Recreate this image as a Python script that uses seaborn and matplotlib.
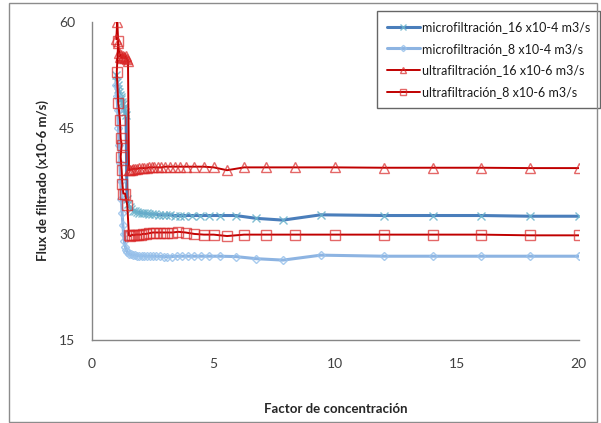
import matplotlib
matplotlib.use("Agg")
import pandas as pd
import seaborn as sns
from matplotlib import pyplot as plt
from matplotlib.patches import Rectangle

# factor de concentracion / flux (x10-6 m/s)
micro16_fc = [1.00, 1.03, 1.06, 1.09, 1.12, 1.15, 1.18, 1.21, 1.24, 1.27, 1.30, 1.33, 1.36, 1.40,
              1.44, 1.48, 1.55, 1.62, 1.70, 1.78, 1.86, 1.95, 2.05, 2.15, 2.25, 2.36, 2.48, 2.60,
              2.75, 2.90, 3.05, 3.20, 3.40, 3.60, 3.80, 4.10, 4.45, 4.80, 5.25, 5.90, 6.75, 7.85,
              9.40, 12.0, 14.0, 16.0, 18.0, 20.0]
micro16_flux = [52.5, 51.5, 51.0, 50.5, 50.0, 49.6, 49.3, 49.0, 48.6, 48.3, 48.0, 47.6, 47.2, 46.8,
                35.0, 34.2, 33.8, 33.5, 33.3, 33.2, 33.1, 33.0, 33.0, 32.9, 32.9, 32.8, 32.8, 32.8,
                32.7, 32.7, 32.7, 32.7, 32.6, 32.6, 32.6, 32.6, 32.6, 32.6, 32.6, 32.6, 32.2, 31.95,
                32.7, 32.6, 32.6, 32.6, 32.5, 32.5]

micro8_fc = [1.00, 1.03, 1.06, 1.09, 1.12, 1.15, 1.18, 1.21, 1.24, 1.27, 1.30, 1.33, 1.37, 1.41,
             1.46, 1.52, 1.60, 1.68, 1.76, 1.85, 1.95, 2.05, 2.15, 2.26, 2.38, 2.50, 2.65, 2.80,
             2.95, 3.10, 3.30, 3.50, 3.70, 3.95, 4.20, 4.50, 4.80, 5.25, 5.90, 6.75, 7.85, 9.40,
             12.0, 14.0, 16.0, 18.0, 20.0]
micro8_flux = [51.0, 49.5, 47.5, 45.0, 42.5, 40.0, 37.5, 35.0, 33.0, 31.3, 30.0, 29.0, 28.2, 27.7,
               27.4, 27.2, 27.1, 27.0, 27.0, 26.95, 26.9, 26.9, 26.9, 26.85, 26.85, 26.85, 26.85, 26.85,
               26.8, 26.8, 26.8, 26.85, 26.85, 26.85, 26.85, 26.85, 26.85, 26.85, 26.8, 26.5, 26.3, 27.0,
               26.85, 26.85, 26.85, 26.85, 26.85]

ultra16_fc = [1.00, 1.04, 1.08, 1.12, 1.16, 1.20, 1.24, 1.28, 1.32, 1.36, 1.40, 1.44, 1.48, 1.52,
              1.58, 1.64, 1.70, 1.78, 1.86, 1.95, 2.05, 2.15, 2.25, 2.35, 2.45, 2.55, 2.70, 2.85,
              3.00, 3.20, 3.40, 3.60, 3.85, 4.20, 4.60, 5.00, 5.55, 6.25, 7.15, 8.35, 10.0, 12.0,
              14.0, 16.0, 18.0, 20.0]
ultra16_flux = [57.5, 60.0, 57.0, 55.5, 55.0, 55.3, 54.8, 55.2, 55.0, 54.8, 55.1, 54.7, 54.5, 39.0,
                39.1, 39.1, 39.2, 39.2, 39.2, 39.3, 39.3, 39.3, 39.3, 39.4, 39.4, 39.4, 39.4, 39.4,
                39.5, 39.5, 39.5, 39.5, 39.5, 39.5, 39.5, 39.4, 39.0, 39.4, 39.4, 39.4, 39.4, 39.35,
                39.35, 39.35, 39.3, 39.3]

ultra8_fc = [1.08, 1.02, 1.08, 1.15, 1.18, 1.22, 1.18, 1.22, 1.25, 1.29, 1.36, 1.45, 1.52, 1.58,
             1.64, 1.72, 1.80, 1.90, 2.00, 2.10, 2.22, 2.35, 2.50, 2.65, 2.80, 2.95, 3.10, 3.30,
             3.55, 3.85, 4.20, 4.60, 5.00, 5.55, 6.25, 7.15, 8.35, 10.0, 12.0, 14.0, 16.0, 18.0, 20.0]
ultra8_flux = [57.2, 52.9, 48.5, 46.1, 43.5, 42.6, 40.9, 39.0, 37.1, 35.7, 35.7, 34.1, 29.8, 29.7,
               29.9, 29.8, 29.9, 29.9, 29.9, 30.0, 30.0, 30.1, 30.2, 30.2, 30.2, 30.2, 30.2, 30.2,
               30.3, 30.2, 30.0, 29.9, 29.9, 29.7, 29.9, 29.9, 29.9, 29.9, 29.9, 29.9, 29.9, 29.8, 29.8]

labels = ['microfiltración_16 x10-4 m3/s', 'microfiltración_8 x10-4 m3/s',
          'ultrafiltración_16 x10-6 m3/s', 'ultrafiltración_8 x10-6 m3/s']

sns.set_style('white')
plt.rcParams['font.family'] = ['Lato', 'DejaVu Sans']

series = [
    (micro16_fc, micro16_flux, labels[0], '#4A7EBB', 2.2, 'x', 5.5, (0.42, 0.70, 0.80, 0.85)),
    (micro8_fc, micro8_flux, labels[1], '#8DB4E2', 2.2, 'D', 4.5, (0.60, 0.76, 0.92, 0.85)),
    (ultra16_fc, ultra16_flux, labels[2], '#C00000', 1.4, '^', 6.5, (0.85, 0.15, 0.15, 0.7)),
    (ultra8_fc, ultra8_flux, labels[3], '#C00000', 1.4, 's', 6.5, (0.85, 0.15, 0.15, 0.7)),
]

fig = plt.figure(figsize=(6.01, 4.23), dpi=100)
ax = fig.add_axes([0.153, 0.196, 0.81, 0.753])

for fc, flux, name, color, lw, mk, ms, mec in series:
    df = pd.DataFrame({'fc': fc, 'flux': flux})
    sns.lineplot(data=df, x='fc', y='flux', ax=ax, sort=False, estimator=None,
                 color=color, linewidth=lw, marker=mk, label=name)
    line = ax.lines[-1]
    line.set_markersize(ms)
    line.set_markerfacecolor('none')
    line.set_markeredgecolor(mec)
    line.set_markeredgewidth(1.0)

ax.set_xlim(0, 20)
ax.set_ylim(15, 60)
ax.set_xticks([0, 5, 10, 15, 20])
ax.set_yticks([15, 30, 45, 60])
for side in ['top', 'right']:
    ax.spines[side].set_visible(False)
for side in ['left', 'bottom']:
    ax.spines[side].set_color('#868686')
    ax.spines[side].set_linewidth(1)
ax.tick_params(axis='both', direction='out', length=4, width=1, color='#868686',
               labelsize=10, labelcolor='#404040')
ax.tick_params(axis='x', pad=9)
ax.tick_params(axis='y', pad=8)

ax.set_xlabel('Factor de concentración', fontsize=9.5, fontweight='bold', labelpad=24)
ax.set_ylabel('Flux de filtrado (x10-6 m/s)', fontsize=9.5, fontweight='bold', labelpad=7)

leg = ax.legend(loc='upper left', bbox_to_anchor=(377 / 601, 1 - 11 / 423),
                bbox_transform=fig.transFigure, borderaxespad=0, fontsize=9.0,
                frameon=True, fancybox=False, handlelength=2.6, handletextpad=0.2,
                labelspacing=0.78, markerscale=0.7, borderpad=0.8)
leg.get_frame().set_edgecolor('#404040')
leg.get_frame().set_linewidth(1)
for t in leg.get_texts():
    t.set_color('#1a1a1a')

fig.patches.append(Rectangle((9 / 601, 1.5 / 423), 588 / 601, 418 / 423, transform=fig.transFigure,
                             fill=False, edgecolor='#8c8c8c', linewidth=1))

fig.savefig('out.png', dpi=100)
